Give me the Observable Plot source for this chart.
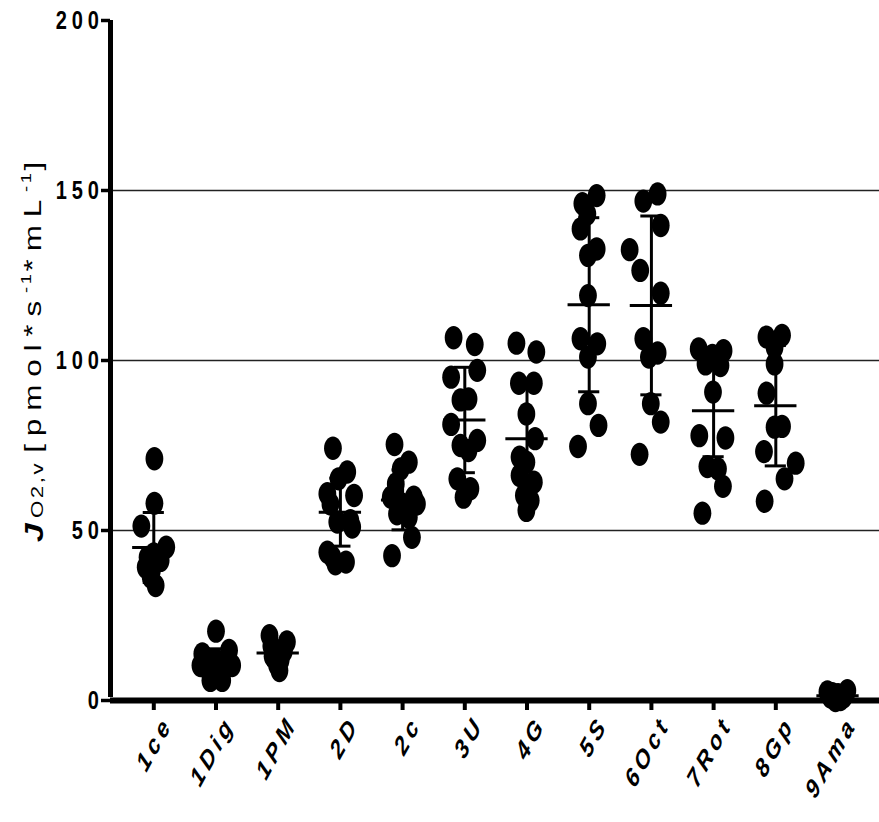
<!DOCTYPE html>
<html>
<head>
<meta charset="utf-8">
<script src="https://cdn.jsdelivr.net/npm/d3@7"></script>
<script src="https://cdn.jsdelivr.net/npm/@observablehq/plot@0.6"></script>
<style>
  html, body { margin: 0; padding: 0; background: #fff; overflow: hidden; }
  #chart svg { display: block; font-family: "Liberation Sans", Arial, sans-serif; }
</style>
</head>
<body>
<div id="chart"></div>
<script>
// ---- data ----
const categories = ["1ce","1Dig","1PM","2D","2c","3U","4G","5S","6Oct","7Rot","8Gp","9Ama"];
const yTicks = [0, 50, 100, 150, 200];
const gridValues = [50, 100, 150];

// each point: [horizontal jitter in category units, value]
const g1ce  = [[0.01,71.1],[0.01,58.0],[-0.20,51.3],[0.20,45.1],[0,43.1],[-0.10,42.1],[0.11,41.2],[-0.13,39.2],[-0.03,38.2],[-0.05,36.3],[0.03,33.8]];
const g1Dig = [[0,20.4],[-0.22,13.7],[0.21,14.7],[0,11.8],[-0.25,10.3],[0.26,10.3],[-0.12,9],[0.12,9],[0,8.3],[-0.09,5.9],[0.10,5.9],[-0.17,12.5],[0.17,12]];
const g1PM  = [[-0.14,19.1],[0.14,17.2],[-0.11,16],[0.09,14.5],[-0.09,13],[0.04,12],[-0.02,10.5],[0.02,8.8]];
const g2D   = [[-0.12,74.2],[0.11,67.2],[-0.03,65.2],[-0.21,60.8],[0.22,60.3],[-0.16,57.8],[-0.05,52.5],[0.16,52.9],[0.19,51.0],[-0.21,43.6],[-0.13,42.2],[-0.08,40.2],[0.09,40.7]];
const g2c   = [[-0.13,75.3],[0.10,70.1],[-0.03,68.1],[-0.11,63.7],[-0.19,59.8],[0.18,59.8],[-0.01,57.8],[0.23,57.8],[-0.09,54.9],[0.10,53.9],[0.15,48.0],[-0.17,42.6]];
const g3U   = [[-0.18,106.7],[0.16,104.7],[0.20,97.1],[-0.22,95.1],[-0.07,88.4],[0.06,88.7],[-0.22,81.2],[-0.07,75.0],[0.20,76.5],[0.06,73.5],[-0.12,65.2],[0.09,62.3],[-0.02,59.8]];
const g4G   = [[-0.17,105.1],[0.15,102.5],[-0.13,93.3],[0.11,93.3],[-0.01,84.3],[0.13,77.0],[-0.12,71.6],[-0.01,70.1],[-0.12,66.2],[0.11,64.2],[-0.05,60.3],[0.06,58.8],[-0.01,55.9]];
const g5S   = [[0.12,148.5],[-0.11,146.1],[-0.03,143.1],[-0.14,138.7],[0.12,132.8],[-0.02,130.9],[-0.02,119.1],[-0.14,106.4],[0.13,104.9],[-0.02,101.0],[-0.02,87.3],[0.15,80.9],[-0.18,74.7]];
const g6Oct = [[0.10,149.0],[-0.13,146.9],[0.15,139.7],[-0.35,132.6],[-0.18,126.5],[0.15,119.8],[-0.13,106.4],[0.10,102.2],[-0.04,101.0],[-0.01,87.3],[0.15,81.9],[-0.19,72.4]];
const g7Rot = [[-0.24,103.4],[0.16,102.9],[-0.02,101.5],[-0.13,99.0],[0.11,98.5],[-0.01,90.7],[-0.23,77.9],[0.19,77.2],[-0.10,68.8],[0.07,68.1],[0.15,63.0],[-0.18,55.1]];
const g8Gp  = [[-0.15,106.9],[0.10,107.4],[-0.02,103.9],[-0.02,99.0],[-0.15,90.4],[-0.02,80.4],[0.10,80.6],[-0.19,73.2],[0.32,69.8],[0.14,65.2],[-0.18,58.6]];
const g9Ama = [[-0.17,2.5],[0.15,2.9],[-0.04,0],[-0.12,1.0],[0.09,1.0],[0,1.7],[0.04,0.3],[-0.09,2.0]];

const means = [45, 11.2, 14, 55.4, 59, 82.5, 77, 116.4, 116.2, 85.2, 86.7, 1.4];
const sds   = [10.3, 4, 3.5, 10, 8.8, 15.5, 16, 25.6, 26.3, 13.5, 17.7, 1];

const groups = [g1ce, g1Dig, g1PM, g2D, g2c, g3U, g4G, g5S, g6Oct, g7Rot, g8Gp, g9Ama];

// ---- build tables ----
const points = groups.flatMap((g, i) => g.map(([j, v]) => ({x: i + j, v})));
const summary = categories.map((c, i) => ({i, mean: means[i], sd: sds[i]}));

// the reference is stretched vertically; dots are ellipses
const STRETCH = 1.31;
const ellipse = {
  draw(ctx, size) {
    const rx = Math.sqrt(size / Math.PI), ry = rx * STRETCH, k = 0.5523;
    ctx.moveTo(rx, 0);
    ctx.bezierCurveTo(rx, k * ry, k * rx, ry, 0, ry);
    ctx.bezierCurveTo(-k * rx, ry, -rx, k * ry, -rx, 0);
    ctx.bezierCurveTo(-rx, -k * ry, -k * rx, -ry, 0, -ry);
    ctx.bezierCurveTo(k * rx, -ry, rx, -k * ry, rx, 0);
    ctx.closePath();
  }
};

const xMin = -0.696, xMax = 11.667;
const meanHalf = 0.34, capHalf = 0.17;

const svg = Plot.plot({
  width: 879,
  height: 822,
  marginLeft: 110,
  marginRight: 0,
  marginTop: 20,
  marginBottom: 122,
  x: {domain: [xMin, xMax], axis: null},
  y: {domain: [0, 200], axis: null},
  marks: [
    Plot.ruleY(gridValues, {x1: xMin, x2: xMax, stroke: "#222", strokeWidth: 1.3}),
    Plot.axisY({ticks: yTicks, tickSize: 9, strokeWidth: 3.5, tickFormat: () => "", label: null}),
    Plot.axisX({ticks: d3.range(categories.length), tickSize: 10, strokeWidth: 4, tickFormat: () => "", label: null}),
    Plot.ruleX([xMin], {y1: 0, y2: 200, strokeWidth: 5, stroke: "#000", insetTop: -3}),
    Plot.ruleY([0], {x1: xMin, x2: xMax, strokeWidth: 6, stroke: "#000"}),
    Plot.dot(points, {x: "x", y: "v", r: 8.9, symbol: ellipse, fill: "#000", stroke: "none"}),
    Plot.ruleX(summary, {x: "i", y1: d => d.mean - d.sd, y2: d => d.mean + d.sd, strokeWidth: 3, stroke: "#000"}),
    Plot.ruleY(summary, {y: "mean", x1: d => d.i - meanHalf, x2: d => d.i + meanHalf, strokeWidth: 3, stroke: "#000"}),
    Plot.ruleY(summary, {y: d => d.mean + d.sd, x1: d => d.i - capHalf, x2: d => d.i + capHalf, strokeWidth: 3, stroke: "#000"}),
    Plot.ruleY(summary, {y: d => d.mean - d.sd, x1: d => d.i - capHalf, x2: d => d.i + capHalf, strokeWidth: 3, stroke: "#000"})
  ]
});

const s = d3.select(svg);
const fam = "'Liberation Sans', Arial, sans-serif";
const xs = svg.scale("x"), ys = svg.scale("y");
const y0 = ys.apply(0);
const xLeft = xs.apply(xMin);

// y tick labels (bold, letter-spaced, vertically stretched like the reference)
const yl = s.append("g").attr("aria-label", "y tick labels")
  .attr("fill", "#000").attr("text-anchor", "end");
yTicks.forEach(v => {
  yl.append("text")
    .attr("transform", `translate(${xLeft - 6},${ys.apply(v)}) scale(1,${STRETCH})`)
    .attr("dy", "0.36em")
    .style("font-family", fam).style("font-size", "20px").style("font-weight", "bold")
    .style("letter-spacing", "5px")
    .text(v);
});

// x tick labels
const xl = s.append("g").attr("aria-label", "x tick labels")
  .attr("fill", "#000").attr("text-anchor", "end");
categories.forEach((c, i) => {
  xl.append("text")
    .attr("transform", `translate(${xs.apply(i) + 20},${y0 + 24}) scale(1,${STRETCH}) rotate(-54)`)
    .style("font-family", fam).style("font-size", "20.5px").style("font-weight", "bold")
    .style("font-style", "italic").style("letter-spacing", "4px")
    .text(c);
});

// y-axis title with subscript / superscripts
const t = s.append("text")
  .attr("transform", `translate(43,352) scale(1,${STRETCH}) rotate(-90)`)
  .attr("text-anchor", "middle")
  .attr("fill", "#000")
  .style("font-family", fam);
t.append("tspan").style("font-size", "26px").style("font-weight", "bold").style("font-style", "italic").text("J");
t.append("tspan").style("font-size", "17px").attr("dx", 4).style("letter-spacing", "2px").text("O2,v");
t.append("tspan").style("font-size", "24px").attr("dx", 6).attr("dy", -2).style("letter-spacing", "6px").text("[pmol*s");
t.append("tspan").style("font-size", "14px").attr("dy", -10).style("letter-spacing", "2px").text("-1");
t.append("tspan").style("font-size", "24px").attr("dy", 10).style("letter-spacing", "6px").text("*mL");
t.append("tspan").style("font-size", "14px").attr("dy", -10).style("letter-spacing", "2px").text("-1");
t.append("tspan").style("font-size", "24px").attr("dy", 10).text("]");

document.getElementById("chart").appendChild(svg);
</script>
</body>
</html>
